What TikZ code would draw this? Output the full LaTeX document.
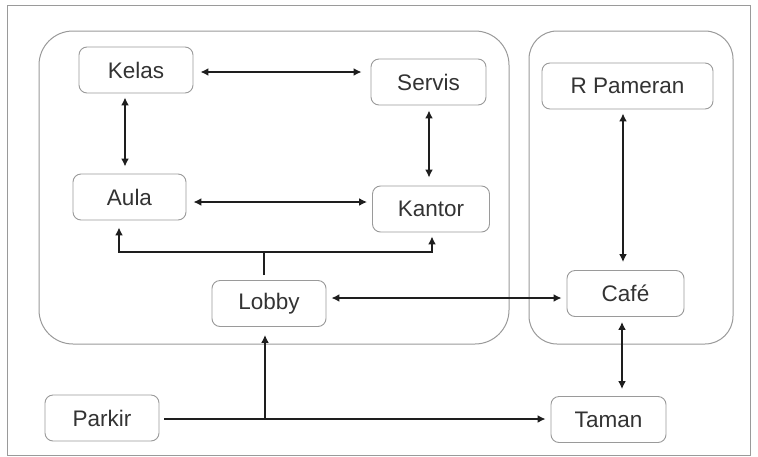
\documentclass[tikz,border=0pt]{standalone}
\usepackage{fontspec}
\setmainfont{Liberation Sans}
\usetikzlibrary{arrows.meta,calc}
\definecolor{boxgray}{HTML}{9A9A9A}
\definecolor{txt}{HTML}{333333}
\definecolor{arrc}{HTML}{1E1E1E}
\tikzset{
  room/.style={draw=boxgray, line width=0.9pt, rounded corners=8pt, fill=white,
    minimum height=46pt, inner sep=0pt, text=txt, font=\fontsize{22.5}{26}\selectfont},
  zone/.style={draw=boxgray, line width=1pt},
  link/.style={draw=arrc, line width=1.9pt},
  both/.style={link, {Latex[length=8pt,width=8pt]}-{Latex[length=8pt,width=8pt]}},
  fwd/.style={link, -{Latex[length=8pt,width=8pt]}}
}
\begin{document}
\begin{tikzpicture}[x=1pt,y=-1pt]
\useasboundingbox (0,0) rectangle (758,456);
\fill[white] (0,0) rectangle (758,456);
\draw[zone] (7,5) rectangle (750,455);
% groups
\draw[zone, rounded corners=34pt] (39,31) rectangle (509,344);
\draw[zone, rounded corners=28pt] (529,31) rectangle (733,344);
% rooms
\node[room, minimum width=114pt] (kelas) at (136,70) {Kelas};
\node[room, minimum width=115pt] (servis) at (428.5,82) {Servis};
\node[room, minimum width=171pt] (rpam) at (627.5,86) {R Pameran};
\node[room, minimum width=113pt] (aula) at (129.5,197) {Aula};
\node[room, minimum width=117pt] (kantor) at (431,209) {Kantor};
\node[room, minimum width=114pt] (lobby) at (269,303.5) {Lobby};
\node[room, minimum width=117pt] (cafe) at (625.5,293.5) {Café};
\node[room, minimum width=114pt] (parkir) at (102,418) {Parkir};
\node[room, minimum width=115pt] (taman) at (608.5,419.5) {Taman};
% connectors
\draw[both, shorten <=7pt, shorten >=9pt] (kelas.east |- 0,72) -- (servis.west |- 0,72);
\draw[both, shorten <=4pt, shorten >=7pt] (kelas.south -| 125,0) -- (aula.north -| 125,0);
\draw[both, shorten <=5pt, shorten >=8pt] (servis.south -| 429,0) -- (kantor.north -| 429,0);
\draw[both, shorten <=7pt, shorten >=5pt] (aula.east |- 0,202) -- (kantor.west |- 0,202);
\coordinate (j) at (264,252);
\draw[link, shorten <=5pt] (lobby.north -| j) -- (j);
\draw[fwd, shorten >=7pt] (j) -| ([xshift=-10.5pt]aula.south);
\draw[fwd, shorten >=4pt] (j) -| ([xshift=1pt]kantor.south);
\draw[both, shorten <=5pt, shorten >=5pt] (lobby.east |- 0,298) -- (cafe.west |- 0,298);
\draw[both, shorten <=4pt, shorten >=8pt] (rpam.south -| 623,0) -- (cafe.north -| 623,0);
\draw[both, shorten <=5pt, shorten >=7pt] (cafe.south -| 622,0) -- (taman.north -| 622,0);
\draw[fwd, shorten <=5pt, shorten >=5pt] (parkir.east |- 0,419) -- (taman.west |- 0,419);
\coordinate (k) at (265,419);
\draw[fwd, shorten >=8pt] (k) -- (lobby.south -| k);
\end{tikzpicture}
\end{document}
